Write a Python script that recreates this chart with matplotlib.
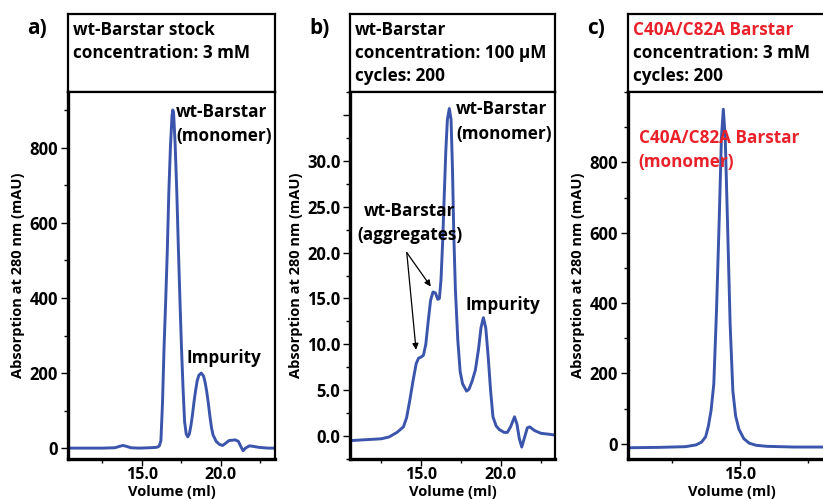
import matplotlib
matplotlib.use("Agg")
import matplotlib.pyplot as plt
from matplotlib.ticker import MultipleLocator, FixedLocator, FixedFormatter, FormatStrFormatter

plt.rcParams['font.family'] = ['Open Sans', 'DejaVu Sans']
plt.rcParams['font.weight'] = 'bold'

BLUE = "#3a55ab"
RED = "#e8212b"

# a) wt-Barstar stock, 3 mM
vol_a = [10.3, 12.5, 13.3, 13.6, 13.8, 14.0, 14.3, 14.8, 15.5, 15.9, 16.0, 16.1, 16.2, 16.3, 16.4,
         16.5, 16.6, 16.7, 16.8, 16.9, 16.95, 17.0, 17.1, 17.2, 17.3, 17.4, 17.5, 17.6, 17.7, 17.8,
         17.9, 18.0, 18.1, 18.2, 18.3, 18.4, 18.5, 18.6, 18.75, 18.9, 19.0, 19.1, 19.2, 19.3, 19.4,
         19.5, 19.7, 19.9, 20.1, 20.3, 20.5, 20.7, 20.9, 21.1, 21.25, 21.4, 21.55, 21.8, 22.0, 22.4,
         23.0, 23.4]
abs_a = [0, 0, 1, 5, 7, 5, 1, 0, 1, 2, 3, 6, 20, 120, 270,
         390, 520, 680, 800, 885, 901, 895, 810, 690, 540, 400, 270, 160, 70, 38,
         30, 38, 60, 90, 125, 155, 180, 194, 200, 192, 175, 150, 120, 85, 55,
         35, 18, 10, 7, 13, 20, 21, 22, 18, 5, -7, 0, 6, 5, 2,
         0, 0]

# b) wt-Barstar 100 uM, 200 cycles
vol_b = [10.56, 11.5, 12.5, 13.0, 13.5, 13.9, 14.1, 14.3, 14.5, 14.7, 14.85, 15.0, 15.15, 15.3,
         15.45, 15.6, 15.75, 15.9, 16.05, 16.15, 16.25, 16.35, 16.45, 16.55, 16.65, 16.77, 16.88,
         16.97, 17.05, 17.15, 17.3, 17.45, 17.6, 17.85, 18.0, 18.2, 18.4, 18.6, 18.75, 18.9, 19.05,
         19.2, 19.35, 19.5, 19.7, 19.9, 20.2, 20.4, 20.6, 20.85, 21.0, 21.15, 21.3, 21.45, 21.65,
         21.8, 22.1, 22.5, 23.0, 23.4]
abs_b = [-0.5, -0.4, -0.3, -0.1, 0.4, 1.0, 2.0, 3.9, 6.0, 7.9, 8.5, 8.6, 8.8, 10.0,
         12.5, 14.8, 15.7, 15.6, 14.9, 15.0, 17.0, 21.0, 26.0, 31.0, 34.5, 35.7, 34.5,
         29.0, 22.0, 16.0, 10.5, 7.0, 5.7, 4.9, 5.1, 6.0, 7.2, 9.5, 11.8, 12.9, 11.8,
         8.7, 5.0, 2.1, 1.1, 0.7, 0.4, 0.4, 1.0, 2.1, 1.3, -0.3, -1.2, -0.3, 0.9,
         1.0, 0.6, 0.3, 0.2, 0.1]

# c) C40A/C82A Barstar 3 mM, 200 cycles
vol_c = [10.9, 12.0, 13.0, 13.4, 13.6, 13.75, 13.85, 13.95, 14.05, 14.15, 14.25, 14.33, 14.4,
         14.47, 14.55, 14.65, 14.75, 14.85, 14.97, 15.15, 15.35, 15.6, 16.0, 17.0, 18.0, 18.6]
abs_c = [-11, -10, -8, -3, 5, 20, 50, 95, 170, 380, 640, 870, 951,
         870, 640, 340, 150, 80, 42, 15, 2, -4, -7, -9, -9, -9]

headers = [
    ["wt-Barstar stock", "concentration: 3 mM"],
    ["wt-Barstar", "concentration: 100 µM", "cycles: 200"],
    ["C40A/C82A Barstar", "concentration: 3 mM", "cycles: 200"],
]
header_colors = [["black", "black"], ["black", "black", "black"], [RED, "black", "black"]]
letters = ["a)", "b)", "c)"]

W, H = 823, 499
fig = plt.figure(figsize=(W / 100, H / 100), dpi=100)


def fx(px):
    return px / W


def fy(py):
    return 1 - py / H


# panel boxes in pixels: left, right
boxes = [(68, 275), (350, 555), (628, 835)]
top_px, mid_px, bot_px = 14, 92, 459

xlims = [(10.32, 23.42), (10.56, 23.38), (10.9, 18.5)]
ylims = [(-29, 949), (-2.5, 37.5), (-43, 1000)]
datasets = [(vol_a, abs_a), (vol_b, abs_b), (vol_c, abs_c)]

fs = 12.3

axes = []
for i, (l, r) in enumerate(boxes):
    # header box
    hax = fig.add_axes([fx(l), fy(mid_px), fx(r - l), (mid_px - top_px) / H])
    hax.set_xticks([])
    hax.set_yticks([])
    for s in hax.spines.values():
        s.set_linewidth(1.6)
    for j, (line, col) in enumerate(zip(headers[i], header_colors[i])):
        fig.text(fx(l + 5), fy(30 + 23 * j), line, color=col, fontsize=fs,
                 fontweight='bold', va='center', ha='left')
    fig.text(fx(l - 41), fy(29), letters[i], fontsize=15, fontweight='bold',
             va='center', ha='left')

    ax = fig.add_axes([fx(l), fy(bot_px), fx(r - l), (bot_px - mid_px) / H])
    x, y = datasets[i]
    ax.plot(x, y, color=BLUE, lw=2.1, solid_capstyle='round', solid_joinstyle='round')
    ax.set_xlim(*xlims[i])
    ax.set_ylim(*ylims[i])
    ax.spines['left'].set_linewidth(2.4)
    ax.spines['bottom'].set_linewidth(2.4)
    ax.spines['right'].set_linewidth(1.6)
    ax.spines['top'].set_linewidth(1.6)
    ax.tick_params(which='major', direction='out', length=5, width=1.0, pad=2)
    ax.tick_params(which='minor', direction='out', length=3, width=1.0)
    ax.tick_params(axis='y', labelsize=12)
    ax.tick_params(axis='x', labelsize=11.5, pad=1)
    ax.xaxis.set_major_locator(MultipleLocator(5))
    ax.xaxis.set_minor_locator(MultipleLocator(2.5))
    ax.xaxis.set_major_formatter(FormatStrFormatter('%.1f'))
    ax.set_xlabel("Volume (ml)", fontsize=10.5, fontweight='bold')
    ax.xaxis.set_label_coords(0.5, -(492 - bot_px) / (bot_px - mid_px))
    ax.xaxis.label.set_va('center')
    ax.set_ylabel("Absorption at 280 nm (mAU)", fontsize=10.5, fontweight='bold', labelpad=3)
    axes.append(ax)

ax_a, ax_b, ax_c = axes

for ax in (ax_a, ax_c):
    ax.yaxis.set_major_locator(FixedLocator([0, 200, 400, 600, 800]))
    ax.yaxis.set_minor_locator(MultipleLocator(100))

b_ticks = [0, 5, 10, 15, 20, 25, 30, 35]
b_labels = ["0.0", "5.0", "10.0", "15.0", "20.0", "25.0", "30.0", ""]
ax_b.yaxis.set_major_locator(FixedLocator(b_ticks))
ax_b.yaxis.set_major_formatter(FixedFormatter(b_labels))
ax_b.yaxis.set_minor_locator(MultipleLocator(2.5))

# annotations
ls = 1.45
ax_a.text(17.15, 864, "wt-Barstar\n(monomer)", fontsize=fs, fontweight='bold',
          va='center', ha='left', linespacing=ls)
ax_a.text(20.19, 240, "Impurity", fontsize=fs, fontweight='bold', va='center', ha='center')

ax_b.text(17.19, 34.3, "wt-Barstar\n(monomer)", fontsize=fs, fontweight='bold',
          va='center', ha='left', linespacing=ls)
ax_b.text(14.31, 23.25, "wt-Barstar\n(aggregates)", fontsize=fs, fontweight='bold',
          va='center', ha='center', linespacing=ls)
ax_b.text(20.13, 14.3, "Impurity", fontsize=fs, fontweight='bold', va='center', ha='center')
for end in [(15.61, 16.3), (14.69, 9.4)]:
    ax_b.annotate("", xy=end, xytext=(14.11, 20.0),
                  arrowprops=dict(arrowstyle='-|>', color='black', lw=0.9,
                                  mutation_scale=9, shrinkA=0, shrinkB=0))

ax_c.text(11.29, 835, "C40A/C82A Barstar\n(monomer)", fontsize=fs, fontweight='bold',
          color=RED, va='center', ha='left', linespacing=ls)

fig.savefig("out.png", dpi=100)
